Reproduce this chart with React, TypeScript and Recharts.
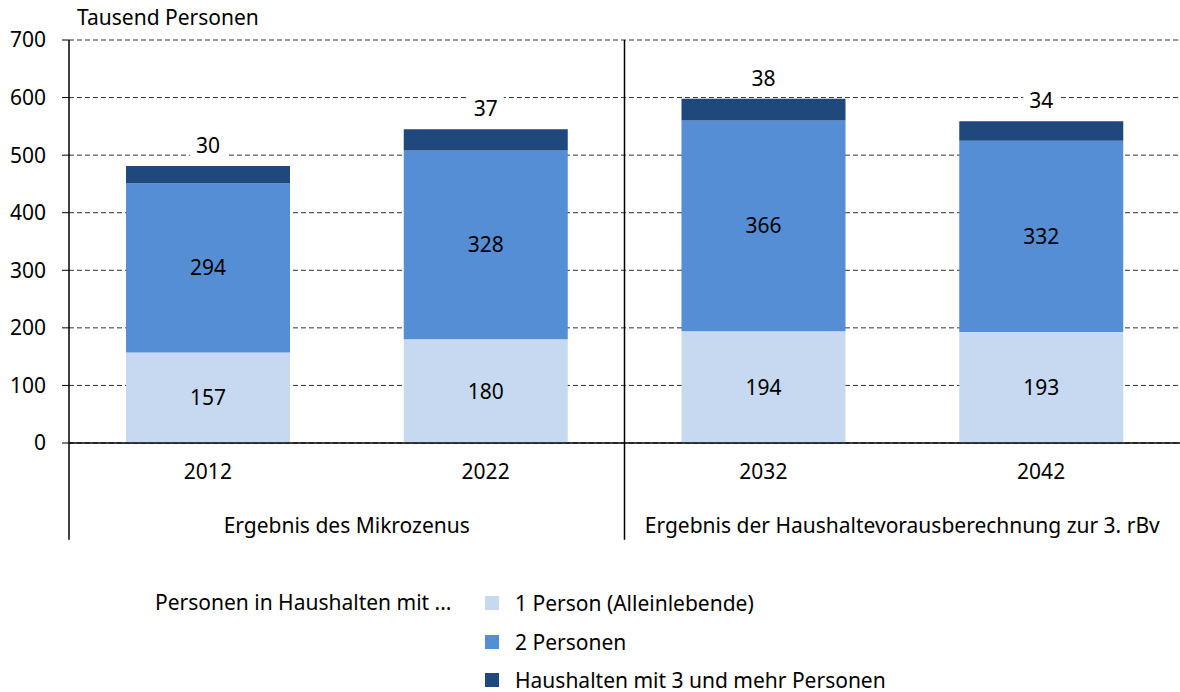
import { BarChart, Bar, XAxis, YAxis, CartesianGrid, ReferenceLine, LabelList } from 'recharts'

const years = ['2012', '2022', '2032', '2042']
const onePerson = [157, 180, 194, 193]
const twoPersons = [294, 328, 366, 332]
const threePlus = [30, 37, 38, 34]
const groupOf = ['Ergebnis des Mikrozenus', '', 'Ergebnis der Haushaltevorausberechnung zur 3. rBv', '']
const yTicks = [0, 100, 200, 300, 400, 500, 600, 700]

const series = [
  { key: 'one', name: '1 Person (Alleinlebende)', color: '#c6d9f1' },
  { key: 'two', name: '2 Personen', color: '#558ed5' },
  { key: 'three', name: 'Haushalten mit 3 und mehr Personen', color: '#1f497d' },
]

const FONT = '"Noto Sans", sans-serif'
const FS = 21

const data = years.map((year, i) => ({
  year,
  group: groupOf[i],
  one: onePerson[i],
  two: twoPersons[i],
  three: threePlus[i],
}))

const TopLabel = (props: any) => {
  const { x, y, width, value } = props
  const cx = x + width / 2
  const cy = y - 21
  return (
    <g>
      <rect x={cx - 18} y={cy - 12} width={36} height={24} fill="#fff" />
      <text x={cx} y={cy} textAnchor="middle" dominantBaseline="central" fontSize={FS} fill="#000" fontFamily={FONT}>
        {value}
      </text>
    </g>
  )
}

// group label sits at the end of its first category band (centred over two years)
const GroupTick = (props: any) => {
  const { x, y, payload } = props
  if (!payload.value) return null
  return (
    <text x={x + (payload.offset ?? 0)} y={y + 20} textAnchor="middle" dominantBaseline="central" fontSize={FS} fill="#000" fontFamily={FONT}>
      {payload.value}
    </text>
  )
}

export default function App() {
  return (
    <div style={{ position: 'absolute', left: 0, top: 0, width: 1180, height: 692, background: '#fff', fontFamily: FONT }}>
      <div style={{ position: 'absolute', left: 77, top: 3, fontSize: FS, color: '#000' }}>Tausend Personen</div>
      <BarChart
        width={1180}
        height={692}
        data={data}
        margin={{ top: 40, right: 0, left: 0, bottom: 149 }}
        style={{ fontFamily: FONT }}
      >
        <CartesianGrid xAxisId="cat" vertical={false} stroke="#333" strokeDasharray="5 3" />
        <XAxis
          xAxisId="cat"
          dataKey="year"
          height={60}
          tickLine={false}
          tickSize={0}
          tickMargin={21}
          axisLine={{ stroke: '#000', strokeWidth: 1.5 }}
          tick={{ fontSize: FS, fill: '#000' }}
        />
        <XAxis
          xAxisId="grp"
          dataKey="group"
          height={40}
          axisLine={false}
          tickLine={false}
          tickSize={0}
          interval={0}
          tick={GroupTick}
        />
        <YAxis
          domain={[0, 700]}
          ticks={yTicks}
          width={69}
          tickSize={7}
          tickMargin={16}
          axisLine={{ stroke: '#000', strokeWidth: 1.5 }}
          tickLine={{ stroke: '#000' }}
          tick={{ fontSize: FS, fill: '#000' }}
        />
        <ReferenceLine
          xAxisId="cat"
          position="start"
          segment={[{ x: '2032', y: 700 }, { x: '2032', y: -168 }]}
          stroke="#000"
          strokeWidth={1.5}
          ifOverflow="visible"
        />
        <ReferenceLine
          xAxisId="cat"
          position="start"
          segment={[{ x: '2012', y: 0 }, { x: '2012', y: -168 }]}
          stroke="#000"
          strokeWidth={1.5}
          ifOverflow="visible"
        />
        <Bar xAxisId="cat" dataKey="one" name={series[0].name} stackId="a" fill={series[0].color} barSize={164} isAnimationActive={false}>
          <LabelList dataKey="one" position="center" fontSize={FS} fill="#000" />
        </Bar>
        <Bar xAxisId="cat" dataKey="two" name={series[1].name} stackId="a" fill={series[1].color} barSize={164} isAnimationActive={false}>
          <LabelList dataKey="two" position="center" fontSize={FS} fill="#000" />
        </Bar>
        <Bar xAxisId="cat" dataKey="three" name={series[2].name} stackId="a" fill={series[2].color} barSize={164} isAnimationActive={false}>
          <LabelList dataKey="three" content={TopLabel} />
        </Bar>
      </BarChart>
      <div style={{ position: 'absolute', left: 155, top: 588, fontSize: FS, color: '#000' }}>Personen in Haushalten mit ...</div>
      {series.map((s, i) => (
        <div key={s.key} style={{ position: 'absolute', left: 485, top: 588 + i * 38.5, height: 30, display: 'flex', alignItems: 'center', fontSize: FS, color: '#000' }}>
          <span style={{ display: 'inline-block', width: 14, height: 14, background: s.color, marginRight: 16 }} />
          <span>{s.name}</span>
        </div>
      ))}
    </div>
  )
}
